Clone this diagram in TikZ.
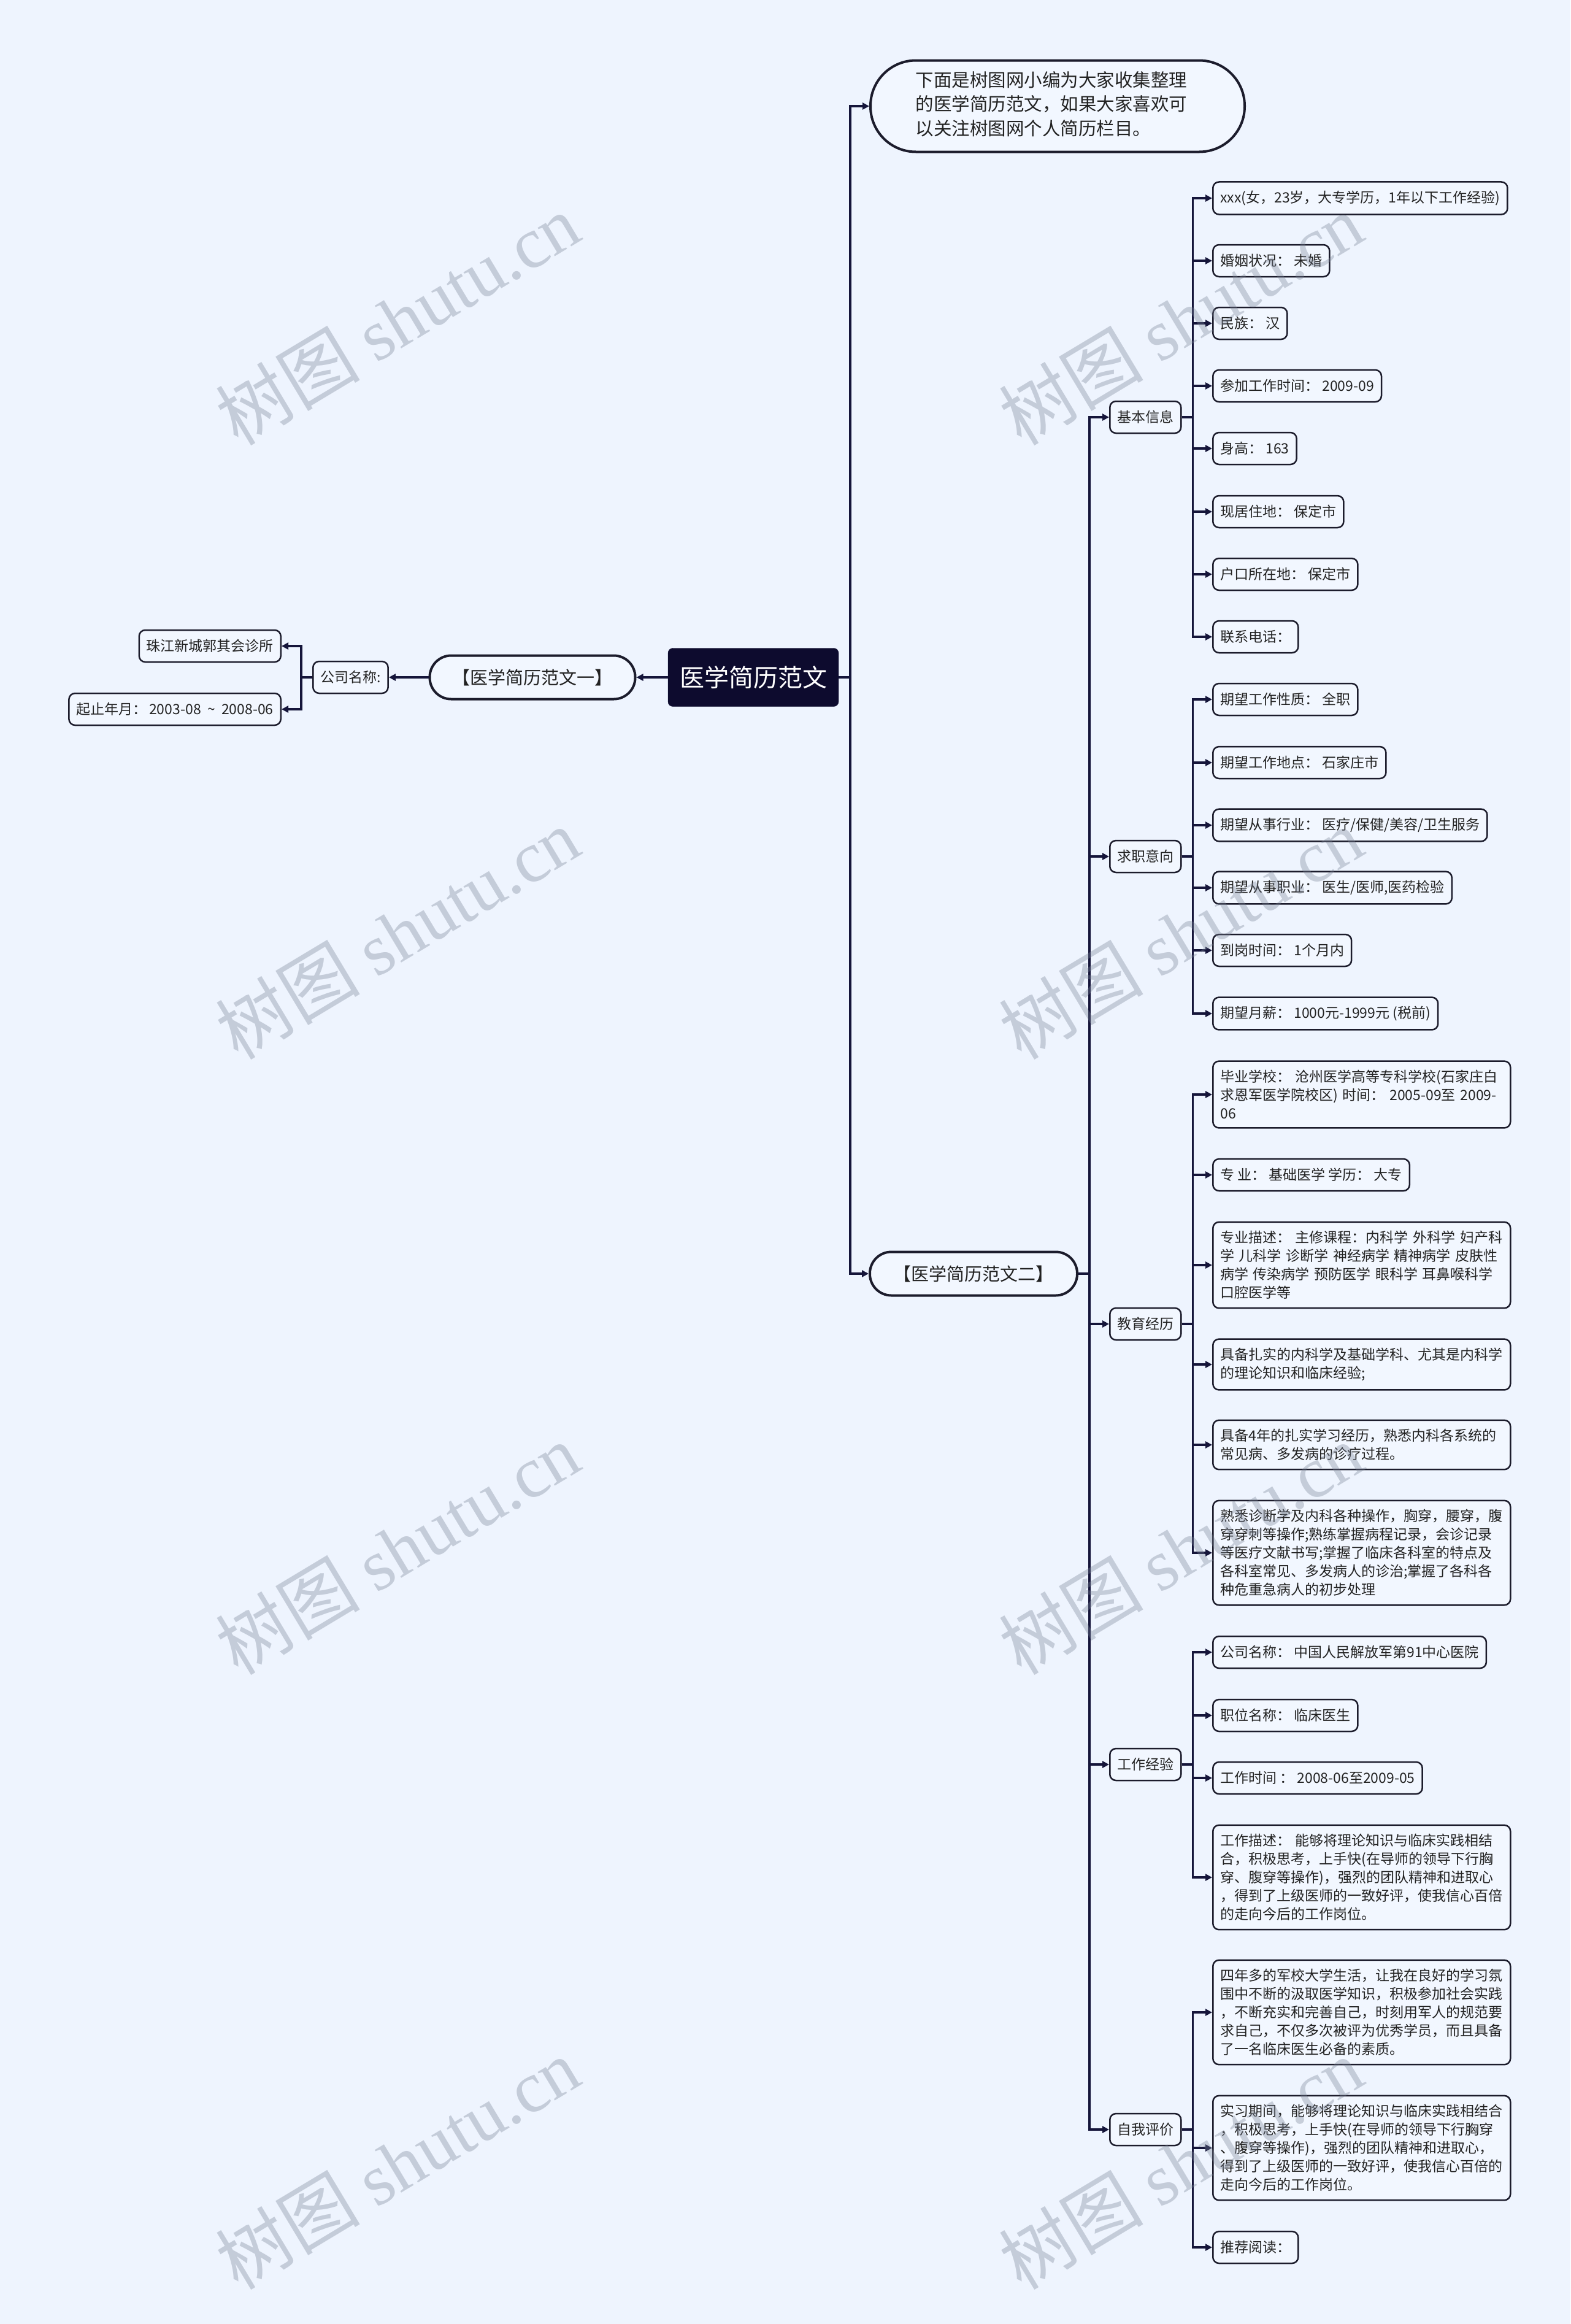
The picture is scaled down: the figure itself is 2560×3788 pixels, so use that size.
\documentclass[tikz,border=0pt]{standalone}
\usepackage{fontspec}
\setmainfont{Noto Sans CJK SC}
\newfontfamily\wmserif{Liberation Serif}
\usetikzlibrary{arrows.meta}
\definecolor{bg}{HTML}{EEF4FE}
\definecolor{boxfill}{HTML}{F2F7FF}
\definecolor{navy}{HTML}{15153A}
\definecolor{boxline}{HTML}{1C1C2C}
\definecolor{rootfill}{HTML}{0D0B2E}
\definecolor{txt}{HTML}{222222}
\definecolor{wm}{RGB}{120,130,150}
\tikzset{
  conn/.style={draw=navy, line width=3.5pt, -{Triangle[length=11pt,width=11pt]}},
  leaf/.style={draw=boxline, line width=2.5pt, rounded corners=10pt, fill=boxfill, text=txt,
    font=\fontsize{23}{30}\selectfont, inner xsep=12pt, inner ysep=14.5pt, minimum height=52pt, anchor=west},
  para/.style={leaf, text width=461pt, align=left},
  pill/.style={draw=boxline, line width=4pt, fill=boxfill, text=txt,
    font=\fontsize{29}{38}\selectfont, minimum height=71pt, rounded corners=35pt},
  rootbox/.style={draw=rootfill, fill=rootfill, text=white, rounded corners=8pt,
    font=\fontsize{40}{46}\selectfont, minimum width=278pt, minimum height=95pt},
  wmark/.style={text=wm, opacity=0.35, rotate=31, font=\fontsize{118}{120}\selectfont},
}
\begin{document}
\begin{tikzpicture}[x=1pt,y=-1pt]
\useasboundingbox (0,0) rectangle (2560,3788);
\fill[bg] (0,0) rectangle (2560,3788);

% root and first level
\node[rootbox] (root) at (1228,1104) {医学简历范文};
\node[pill, minimum width=335pt] (w1) at (868,1104) {【医学简历范文一】};
\node[pill, minimum width=338pt] (w2) at (1587,2076) {【医学简历范文二】};
\node[pill, minimum width=610pt, minimum height=149pt, rounded corners=74pt, align=left,
  inner xsep=0pt, font=\fontsize{29.5}{39.5}\selectfont] (intro) at (1724,173)
  {\hspace*{-20pt}\begin{tabular}{@{}l@{}}下面是树图网小编为大家收集整理\\的医学简历范文，如果大家喜欢可\\以关注树图网个人简历栏目。\end{tabular}};

% left branch
\node[leaf] (gs) at (509,1104) {公司名称:};
\node[leaf, anchor=east] (zj) at (459,1053) {珠江新城郭其会诊所};
\node[leaf, anchor=east] (qz) at (459,1156) {起止年月：\,2003-08\ \ \textasciitilde\ \ 2008-06};

\draw[conn] (root.west) -- (w1.east);
\draw[conn] (w1.west) -- (gs.east);
\draw[conn] (gs.west) -- ++(-18,0) |- (zj.east);
\draw[conn] (gs.west) -- ++(-18,0) |- (qz.east);

\draw[conn] (root.east) -- ++(19,0) |- (intro.west);
\draw[conn] (root.east) -- ++(19,0) |- (w2.west);

% level 2
\node[leaf] (jb) at (1808,680) {基本信息};
\node[leaf] (qy) at (1808,1396) {求职意向};
\node[leaf] (jy) at (1808,2158) {教育经历};
\node[leaf] (gz) at (1808,2876) {工作经验};
\node[leaf] (zp) at (1808,3471) {自我评价};
\foreach \n in {jb,qy,jy,gz,zp} \draw[conn] (w2.east) -- ++(18,0) |- (\n.west);

% 基本信息
\node[leaf] (jb1) at (1976,323) {xxx(女，23岁，大专学历，1年以下工作经验)};
\node[leaf] (jb2) at (1976,425) {婚姻状况： 未婚};
\node[leaf] (jb3) at (1976,527) {民族： 汉};
\node[leaf] (jb4) at (1976,629) {参加工作时间： 2009-09};
\node[leaf] (jb5) at (1976,731) {身高： 163};
\node[leaf] (jb6) at (1976,834) {现居住地： 保定市};
\node[leaf] (jb7) at (1976,936) {户口所在地： 保定市};
\node[leaf] (jb8) at (1976,1038) {联系电话：};
\foreach \n in {jb1,jb2,jb3,jb4,jb5,jb6,jb7,jb8} \draw[conn] (jb.east) -- ++(18,0) |- (\n.west);

% 求职意向
\node[leaf] (qy1) at (1976,1140) {期望工作性质： 全职};
\node[leaf] (qy2) at (1976,1243) {期望工作地点： 石家庄市};
\node[leaf] (qy3) at (1976,1345) {期望从事行业： 医疗/保健/美容/卫生服务};
\node[leaf] (qy4) at (1976,1447) {期望从事职业： 医生/医师,医药检验};
\node[leaf] (qy5) at (1976,1549) {到岗时间： 1个月内};
\node[leaf] (qy6) at (1976,1652) {期望月薪： 1000元-1999元 (税前)};
\foreach \n in {qy1,qy2,qy3,qy4,qy5,qy6} \draw[conn] (qy.east) -- ++(18,0) |- (\n.west);

% 教育经历
\node[para] (jy1) at (1976,1784) {毕业学校： 沧州医学高等专科学校(石家庄白\\求恩军医学院校区) 时间： 2005-09至 2009-\\06};
\node[leaf] (jy2) at (1976,1915) {专 业： 基础医学 学历： 大专};
\node[para] (jy3) at (1976,2062) {专业描述： 主修课程：内科学 外科学 妇产科\\学 儿科学 诊断学 神经病学 精神病学 皮肤性\\病学 传染病学 预防医学 眼科学 耳鼻喉科学\\口腔医学等};
\node[para] (jy4) at (1976,2224) {具备扎实的内科学及基础学科、尤其是内科学\\的理论知识和临床经验;};
\node[para] (jy5) at (1976,2355) {具备4年的扎实学习经历，熟悉内科各系统的\\常见病、多发病的诊疗过程。};
\node[para] (jy6) at (1976,2531) {熟悉诊断学及内科各种操作，胸穿，腰穿，腹\\穿穿刺等操作;熟练掌握病程记录，会诊记录\\等医疗文献书写;掌握了临床各科室的特点及\\各科室常见、多发病人的诊治;掌握了各科各\\种危重急病人的初步处理};
\foreach \n in {jy1,jy2,jy3,jy4,jy5,jy6} \draw[conn] (jy.east) -- ++(18,0) |- (\n.west);

% 工作经验
\node[leaf] (gz1) at (1976,2693) {公司名称： 中国人民解放军第91中心医院};
\node[leaf] (gz2) at (1976,2796) {职位名称： 临床医生};
\node[leaf] (gz3) at (1976,2898) {工作时间 ： 2008-06至2009-05};
\node[para] (gz4) at (1976,3060) {工作描述： 能够将理论知识与临床实践相结\\合，积极思考，上手快(在导师的领导下行胸\\穿、腹穿等操作)，强烈的团队精神和进取心\\，得到了上级医师的一致好评，使我信心百倍\\的走向今后的工作岗位。};
\foreach \n in {gz1,gz2,gz3,gz4} \draw[conn] (gz.east) -- ++(18,0) |- (\n.west);

% 自我评价
\node[para] (zp1) at (1976,3280) {四年多的军校大学生活，让我在良好的学习氛\\围中不断的汲取医学知识，积极参加社会实践\\，不断充实和完善自己，时刻用军人的规范要\\求自己，不仅多次被评为优秀学员，而且具备\\了一名临床医生必备的素质。};
\node[para] (zp2) at (1976,3501) {实习期间，能够将理论知识与临床实践相结合\\，积极思考，上手快(在导师的领导下行胸穿\\、腹穿等操作)，强烈的团队精神和进取心，\\得到了上级医师的一致好评，使我信心百倍的\\走向今后的工作岗位。};
\node[leaf] (zp3) at (1976,3663) {推荐阅读：};
\foreach \n in {zp1,zp2,zp3} \draw[conn] (zp.east) -- ++(18,0) |- (\n.west);

% watermarks
\foreach \wy [count=\i] in {520,1521,2524,3526} {
  \node[wmark] (wl\i) at (648,\wy) {树图 {\wmserif shutu.cn}};
  \node[wmark] (wr\i) at (1925,\wy) {树图 {\wmserif shutu.cn}};
}
\end{tikzpicture}
\end{document}
